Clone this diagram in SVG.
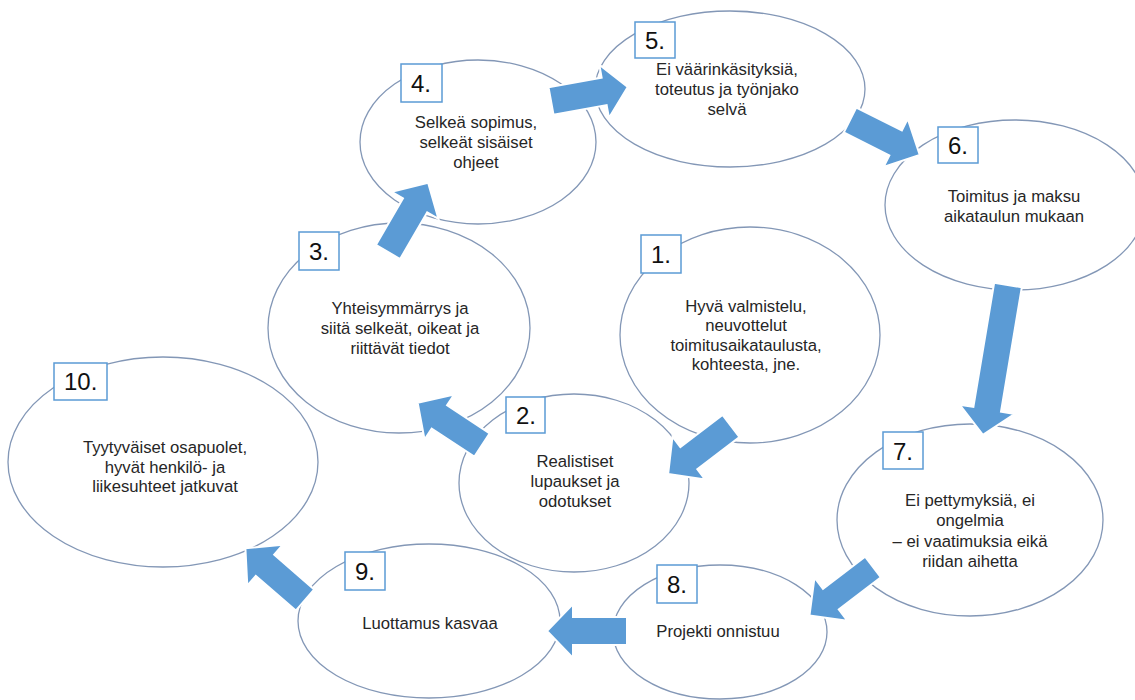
<svg xmlns="http://www.w3.org/2000/svg" width="1135" height="700" viewBox="0 0 1135 700">
<style>
  .ell { fill: none; stroke: #8397b6; stroke-width: 1.3; }
  .box { fill: #ffffff; stroke: #5b9bd5; stroke-width: 1.5; }
  .num { font-family: "Liberation Sans", Arial, sans-serif; font-size: 24px; fill: #111111; }
  .lbl { font-family: "Liberation Sans", Arial, sans-serif; font-size: 16.7px; fill: #262626; text-anchor: middle; }
  .arr { fill: #5b9bd5; stroke: #ffffff; stroke-width: 2; stroke-linejoin: miter; }
</style>
<rect x="0" y="0" width="1135" height="700" fill="#ffffff"/>

<g id="node1">
  <ellipse class="ell" cx="750" cy="335" rx="130" ry="108"/>
  <rect class="box" x="641" y="235" width="40" height="38"/>
  <text class="num" x="651" y="263">1.</text>
  <text class="lbl" x="746" y="312">Hyvä valmistelu,</text>
  <text class="lbl" x="746" y="331">neuvottelut</text>
  <text class="lbl" x="746" y="351">toimitusaikataulusta,</text>
  <text class="lbl" x="746" y="370">kohteesta, jne.</text>
</g>

<g id="node2">
  <ellipse class="ell" cx="574" cy="483" rx="115" ry="89"/>
  <rect class="box" x="506" y="397" width="39" height="36"/>
  <text class="num" x="516" y="424">2.</text>
  <text class="lbl" x="575" y="467">Realistiset</text>
  <text class="lbl" x="575" y="487">lupaukset ja</text>
  <text class="lbl" x="575" y="507">odotukset</text>
</g>

<g id="node3">
  <ellipse class="ell" cx="399" cy="328" rx="131" ry="105"/>
  <rect class="box" x="299" y="232" width="40" height="38"/>
  <text class="num" x="309" y="260">3.</text>
  <text class="lbl" x="400" y="314">Yhteisymmärrys ja</text>
  <text class="lbl" x="400" y="334">siitä selkeät, oikeat ja</text>
  <text class="lbl" x="400" y="354">riittävät tiedot</text>
</g>

<g id="node4">
  <ellipse class="ell" cx="478" cy="142" rx="118" ry="82"/>
  <rect class="box" x="401" y="64" width="41" height="38"/>
  <text class="num" x="411" y="92">4.</text>
  <text class="lbl" x="476" y="128">Selkeä sopimus,</text>
  <text class="lbl" x="476" y="148">selkeät sisäiset</text>
  <text class="lbl" x="476" y="168">ohjeet</text>
</g>

<g id="node5">
  <ellipse class="ell" cx="730" cy="89" rx="135" ry="78"/>
  <rect class="box" x="635" y="22" width="40" height="36"/>
  <text class="num" x="645" y="49">5.</text>
  <text class="lbl" x="727" y="75">Ei väärinkäsityksiä,</text>
  <text class="lbl" x="727" y="95">toteutus ja työnjako</text>
  <text class="lbl" x="727" y="115">selvä</text>
</g>

<g id="node6">
  <ellipse class="ell" cx="1015" cy="205" rx="130" ry="85"/>
  <rect class="box" x="938" y="127" width="40" height="36"/>
  <text class="num" x="948" y="154">6.</text>
  <text class="lbl" x="1014" y="202">Toimitus ja maksu</text>
  <text class="lbl" x="1014" y="222">aikataulun mukaan</text>
</g>

<g id="node7">
  <ellipse class="ell" cx="970" cy="520" rx="133" ry="96"/>
  <rect class="box" x="883" y="432" width="40" height="37"/>
  <text class="num" x="893" y="460">7.</text>
  <text class="lbl" x="970" y="506">Ei pettymyksiä, ei</text>
  <text class="lbl" x="970" y="526">ongelmia</text>
  <text class="lbl" x="970" y="547">– ei vaatimuksia eikä</text>
  <text class="lbl" x="970" y="567">riidan aihetta</text>
</g>

<g id="node8">
  <ellipse class="ell" cx="720" cy="632" rx="107" ry="67"/>
  <rect class="box" x="657" y="565" width="40" height="38"/>
  <text class="num" x="667" y="593">8.</text>
  <text class="lbl" x="718" y="637">Projekti onnistuu</text>
</g>

<g id="node9">
  <ellipse class="ell" cx="429" cy="621" rx="131" ry="77"/>
  <rect class="box" x="345" y="552" width="40" height="38"/>
  <text class="num" x="355" y="580">9.</text>
  <text class="lbl" x="430" y="629">Luottamus kasvaa</text>
</g>

<g id="node10">
  <ellipse class="ell" cx="163" cy="462" rx="155" ry="105"/>
  <rect class="box" x="54" y="363" width="53" height="37"/>
  <text class="num" x="64" y="390">10.</text>
  <text class="lbl" x="165" y="453">Tyytyväiset osapuolet,</text>
  <text class="lbl" x="165" y="473">hyvät henkilö- ja</text>
  <text class="lbl" x="165" y="492">liikesuhteet jatkuvat</text>
</g>

<g id="connectors">
  <path class="arr" transform="translate(731,426) rotate(142.7)" d="M0,-14 L53,-14 L53,-27 L79,0 L53,27 L53,14 L0,14 Z"/>
  <path class="arr" transform="translate(482,445) rotate(213.3)" d="M0,-14 L51,-14 L51,-27 L77,0 L51,27 L51,14 L0,14 Z"/>
  <path class="arr" transform="translate(388,252) rotate(-59.9)" d="M0,-14 L54,-14 L54,-27 L80,0 L54,27 L54,14 L0,14 Z"/>
  <path class="arr" transform="translate(551,101) rotate(-10.3)" d="M0,-14 L54,-14 L54,-27 L78,0 L54,27 L54,14 L0,14 Z"/>
  <path class="arr" transform="translate(850,120) rotate(26.6)" d="M0,-14 L51,-14 L51,-27 L78,0 L51,27 L51,14 L0,14 Z"/>
  <path class="arr" transform="translate(1008,285) rotate(99.5)" d="M0,-14 L126,-14 L126,-28 L152,0 L126,28 L126,14 L0,14 Z"/>
  <path class="arr" transform="translate(873,567) rotate(142.6)" d="M0,-13 L53,-13 L53,-27 L80,0 L53,27 L53,13 L0,13 Z"/>
  <path class="arr" transform="translate(627,631) rotate(180)" d="M0,-14 L54,-14 L54,-27 L80,0 L54,27 L54,14 L0,14 Z"/>
  <path class="arr" transform="translate(305,600) rotate(221)" d="M0,-14 L53,-14 L53,-27 L79,0 L53,27 L53,14 L0,14 Z"/>
</g>
</svg>
